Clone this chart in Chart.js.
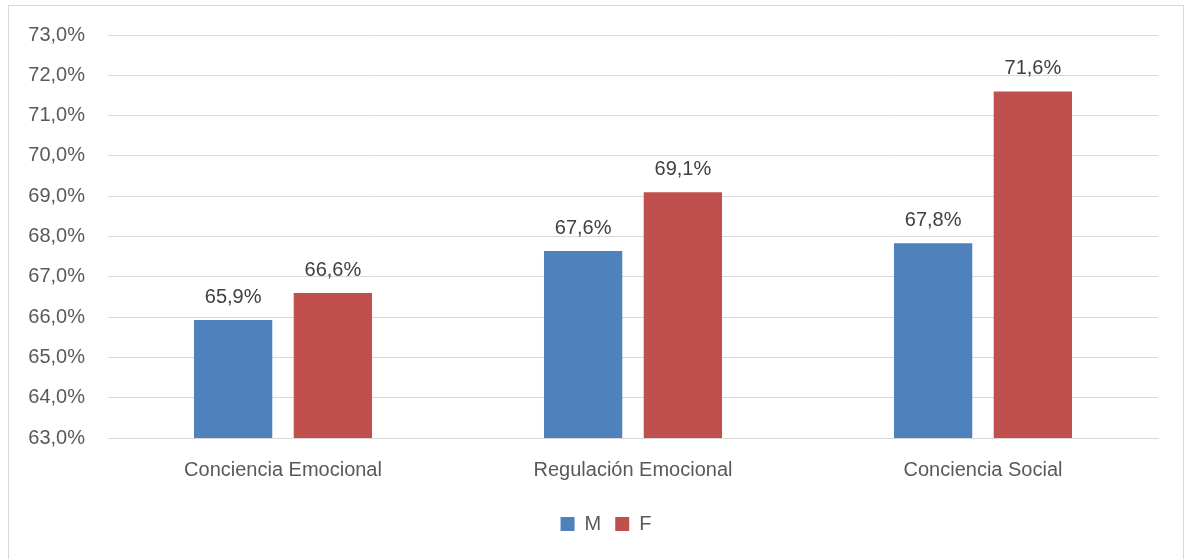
<!DOCTYPE html>
<html lang="es">
<head>
  <meta charset="UTF-8">
  <title>Competencias emocionales por sexo</title>
  <script src="https://cdn.jsdelivr.net/npm/chart.js@4.4.1/dist/chart.umd.min.js"></script>
  <style>
    html, body { margin: 0; padding: 0; background: #fff; overflow: hidden; }
    .frame { position: absolute; left: 8px; top: 5px; width: 1174px; height: 600px; border: 1px solid #d9d9d9; }
    #chart { position: absolute; left: 0; top: 0; }
  </style>
</head>
<body>
  <div class="frame"></div>
  <canvas id="chart" width="1187" height="559"></canvas>

  <script>
    // datos (porcentaje)
    const categorias = ['Conciencia Emocional', 'Regulación Emocional', 'Conciencia Social'];
    const valoresM = [65.93, 67.64, 67.83];
    const valoresF = [66.6, 69.1, 71.6];
    const ejeMin = 63;
    const ejeMax = 73;

    const fmt = v => v.toFixed(1).replace('.', ',') + '%';
    const fuente = { family: '"Liberation Sans", Arial, sans-serif', size: 20 };

    // etiquetas encima de cada barra
    const etiquetas = {
      id: 'etiquetas',
      afterLayout(chart) {
        // la leyenda del original queda algo a la derecha del centro
        chart.legend.left += 27;
        chart.legend.right += 27;
      },
      afterDatasetsDraw(chart) {
        const ctx = chart.ctx;
        ctx.save();
        ctx.font = '20px "Liberation Sans", Arial, sans-serif';
        ctx.fillStyle = '#404040';
        ctx.textAlign = 'center';
        ctx.textBaseline = 'alphabetic';
        chart.data.datasets.forEach((ds, i) => {
          chart.getDatasetMeta(i).data.forEach((bar, j) => {
            ctx.fillText(fmt(ds.data[j]), bar.x, bar.y - 17);
          });
        });
        ctx.restore();
      }
    };

    new Chart(document.getElementById('chart'), {
      type: 'bar',
      data: {
        labels: categorias,
        datasets: [
          { label: 'M', data: valoresM, backgroundColor: '#4f81bd' },
          { label: 'F', data: valoresF, backgroundColor: '#c0504d' }
        ]
      },
      options: {
        responsive: false,
        animation: false,
        devicePixelRatio: 1,
        categoryPercentage: 0.57,
        barPercentage: 0.785,
        layout: { padding: { left: 0, right: 29, top: 34, bottom: 15 } },
        plugins: {
          tooltip: { enabled: false },
          legend: {
            position: 'bottom',
            labels: {
              boxWidth: 14,
              boxHeight: 14,
              color: '#595959',
              font: fuente,
              padding: 14
            }
          }
        },
        scales: {
          x: {
            grid: { display: false },
            border: { color: '#d9d9d9' },
            afterFit(scale) { scale.height += 6; },
            ticks: { color: '#595959', font: fuente, padding: 12 }
          },
          y: {
            min: ejeMin,
            max: ejeMax,
            afterFit(scale) { scale.width = 108; },
            grid: { color: '#d9d9d9', drawTicks: false },
            border: { display: false },
            ticks: {
              stepSize: 1,
              color: '#595959',
              font: fuente,
              padding: 23,
              callback: v => fmt(v)
            }
          }
        }
      },
      plugins: [etiquetas]
    });
  </script>
</body>
</html>
